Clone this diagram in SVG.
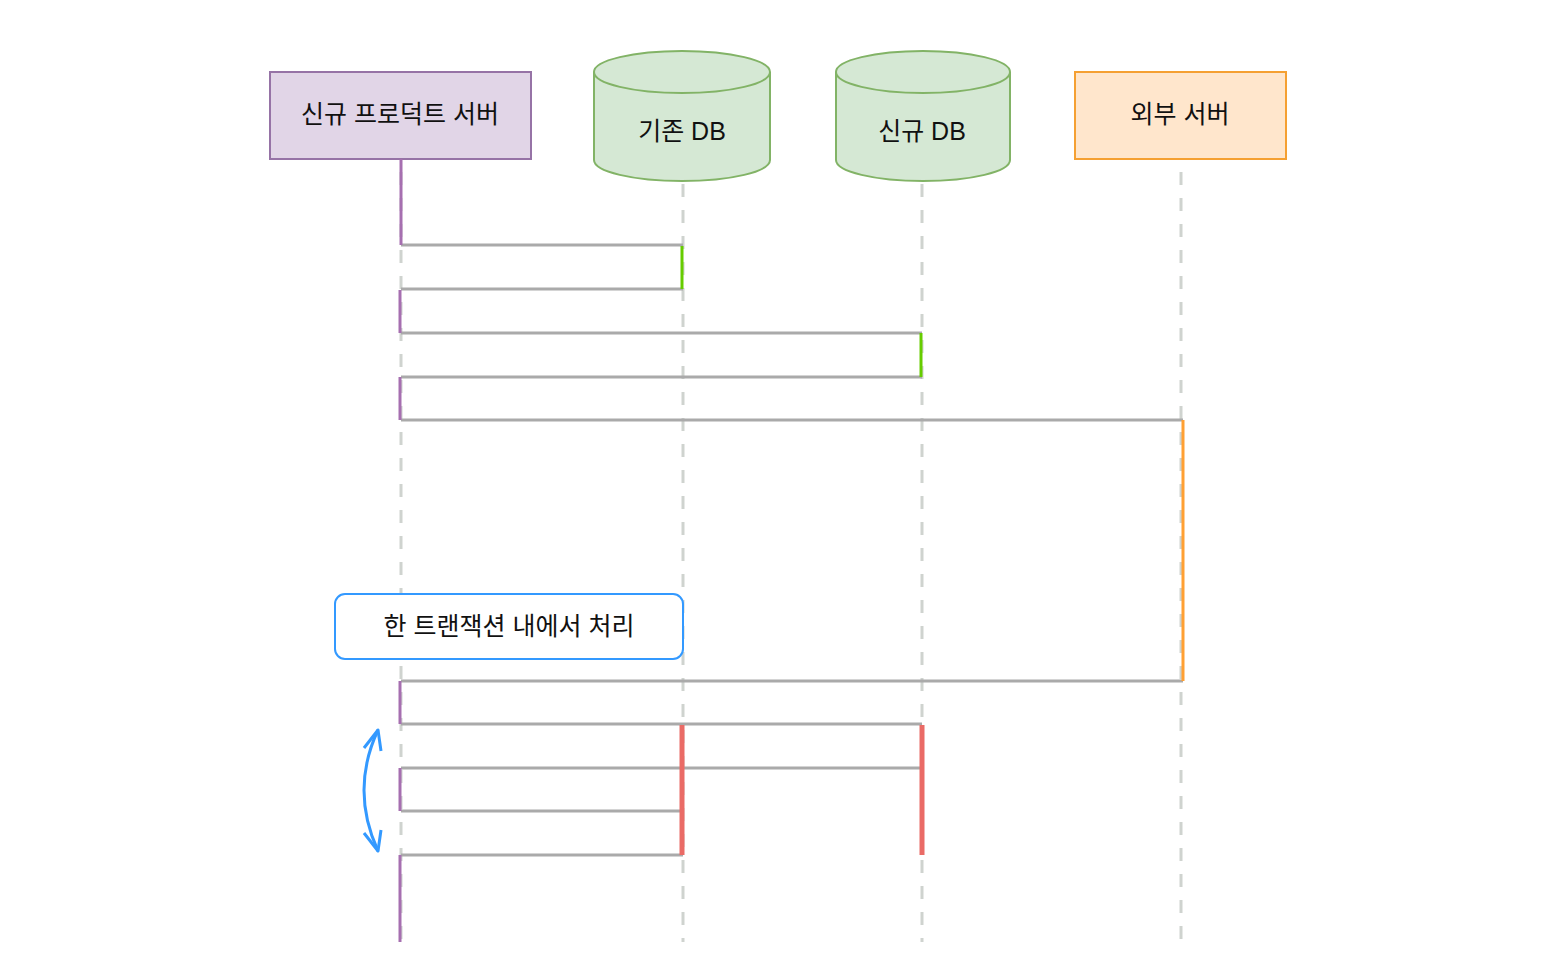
<svg xmlns="http://www.w3.org/2000/svg" width="1560" height="972" viewBox="0 0 1560 972">
<defs>
<style>
.t{font-family:"Liberation Sans","Noto Sans CJK KR",sans-serif;font-size:25px;fill:#111;text-anchor:middle;dominant-baseline:central}
.life{stroke:#cfd3cf;stroke-width:3;stroke-dasharray:13 13;fill:none}
.msg{stroke:#aaaaaa;stroke-width:3;fill:none}
.act-p{stroke:#a66fb0;stroke-width:3}
.act-g{stroke:#66cc00;stroke-width:3}
.act-o{stroke:#ffa033;stroke-width:3}
.act-r{stroke:#ea6b66;stroke-width:5}
</style>
</defs>
<rect width="1560" height="972" fill="#ffffff"/>
<g id="lifelines">
<line class="life" x1="401" y1="172" x2="401" y2="942"/>
<line class="life" x1="683" y1="184" x2="683" y2="942"/>
<line class="life" x1="922" y1="184" x2="922" y2="942"/>
<line class="life" x1="1181" y1="172" x2="1181" y2="942"/>
</g>
<g id="node-server">
<rect x="270" y="72" width="261" height="87" fill="#e1d5e7" stroke="#9673a6" stroke-width="2"/>
<text class="t" x="400" y="114">신규 프로덕트 서버</text>
</g>
<g id="node-olddb">
<path d="M594,72 A88,21 0 0 1 770,72 L770,160 A88,21 0 0 1 594,160 Z" fill="#d5e8d4" stroke="#82b366" stroke-width="2"/>
<path d="M594,72 A88,21 0 0 0 770,72" fill="none" stroke="#82b366" stroke-width="2"/>
<text class="t" x="682" y="131">기존 DB</text>
</g>
<g id="node-newdb">
<path d="M836,72 A87,21 0 0 1 1010,72 L1010,160 A87,21 0 0 1 836,160 Z" fill="#d5e8d4" stroke="#82b366" stroke-width="2"/>
<path d="M836,72 A87,21 0 0 0 1010,72" fill="none" stroke="#82b366" stroke-width="2"/>
<text class="t" x="922" y="131">신규 DB</text>
</g>
<g id="node-external">
<rect x="1075" y="72" width="211" height="87" fill="#ffe6cc" stroke="#f5a032" stroke-width="2"/>
<text class="t" x="1180" y="114">외부 서버</text>
</g>
<g id="connectors">
<line class="msg" x1="401" y1="245" x2="683" y2="245"/>
<line class="msg" x1="401" y1="289" x2="683" y2="289"/>
<line class="msg" x1="401" y1="333" x2="922" y2="333"/>
<line class="msg" x1="401" y1="377" x2="922" y2="377"/>
<line class="msg" x1="401" y1="420" x2="1183" y2="420"/>
<line class="msg" x1="401" y1="681" x2="1183" y2="681"/>
<line class="msg" x1="401" y1="724" x2="922" y2="724"/>
<line class="msg" x1="401" y1="768" x2="922" y2="768"/>
<line class="msg" x1="401" y1="811" x2="683" y2="811"/>
<line class="msg" x1="401" y1="855" x2="683" y2="855"/>
<line class="act-p" x1="401" y1="159" x2="401" y2="245"/>
<line class="act-p" x1="400" y1="290" x2="400" y2="333"/>
<line class="act-p" x1="400" y1="377" x2="400" y2="420"/>
<line class="act-p" x1="400" y1="681" x2="400" y2="724"/>
<line class="act-p" x1="400" y1="768" x2="400" y2="811"/>
<line class="act-p" x1="400" y1="855" x2="400" y2="942"/>
<line class="act-g" x1="682" y1="246" x2="682" y2="289"/>
<line class="act-g" x1="921" y1="333" x2="921" y2="377"/>
<line class="act-o" x1="1183" y1="420" x2="1183" y2="681"/>
<line class="act-r" x1="682" y1="725" x2="682" y2="855"/>
<line class="act-r" x1="922" y1="725" x2="922" y2="855"/>
<path d="M378,730 Q350,790 378,851" fill="none" stroke="#3399ff" stroke-width="3"/>
<path d="M364,748 L378,730 L381,751" fill="none" stroke="#3399ff" stroke-width="3" stroke-linejoin="round"/>
<path d="M364,833 L378,851 L381,830" fill="none" stroke="#3399ff" stroke-width="3" stroke-linejoin="round"/>
</g>
<g id="node-note">
<rect x="335" y="594" width="348" height="65" rx="10" ry="10" fill="#ffffff" stroke="#3399ff" stroke-width="2"/>
<text class="t" x="509" y="626">한 트랜잭션 내에서 처리</text>
</g>
</svg>
